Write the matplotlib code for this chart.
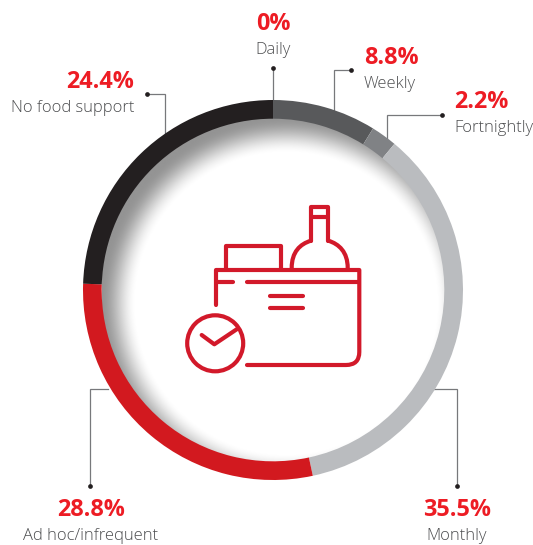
import numpy as np
import matplotlib
matplotlib.use('Agg')
import matplotlib.pyplot as plt
from matplotlib.patches import Circle, PathPatch
from matplotlib.path import Path

W, H = 533, 545
CX, CY = 273, 290
R_OUT, R_IN = 190, 171.3

RED = '#d2192a'
TEXT_RED = '#ed1c24'
TEXT_GREY = '#4d4e50'
ICON_LW = 3.0

labels = ['Daily', 'Weekly', 'Fortnightly', 'Monthly', 'Ad hoc/infrequent', 'No food support']
values = [0, 8.8, 2.2, 35.5, 28.8, 24.4]
colors = ['#58595b', '#58595b', '#808285', '#babcbf', '#d2191f', '#231f20']

# x, value y, name y, ha for each label block
text_pos = [
    (273, 24.5, 50.5, 'center'),
    (364, 57.5, 83.5, 'left'),
    (454, 102.5, 128.5, 'left'),
    (457, 510.5, 535.5, 'center'),
    (91, 510.5, 535.5, 'center'),
    (134, 82.5, 107.5, 'right'),
]

# leader lines, dot end first
leaders = [
    [(273, 68), (273, 101)],
    [(351, 69.5), (333.5, 69.5), (333.5, 110)],
    [(441.5, 114.5), (386.5, 114.5), (386.5, 138)],
    [(457, 486), (457, 389), (428, 389)],
    [(90, 486), (90, 389), (108, 389)],
    [(147, 93.5), (164.5, 93.5), (164.5, 133)],
]


def inner_shadow(ax):
    # soft grey rim, heavier towards the upper left
    xs, ys = np.meshgrid(np.arange(CX - R_IN, CX + R_IN + 1, 1.0),
                         np.arange(CY - R_IN, CY + R_IN + 1, 1.0))
    d = np.hypot(xs - (CX + 13), ys - (CY + 14))
    t = np.clip((d - 150) / (186 - 150), 0, 1)
    t = t * t * (3 - 2 * t)
    grey = 1 - 0.42 * t
    img = ax.imshow(grey, cmap='gray', vmin=0, vmax=1, zorder=1,
                    extent=(CX - R_IN, CX + R_IN, CY + R_IN, CY - R_IN),
                    interpolation='bilinear')
    img.set_clip_path(Circle((CX, CY), R_IN + 1, transform=ax.transData))


def draw_icon(ax):
    kw = dict(color=RED, lw=ICON_LW, solid_capstyle='round', solid_joinstyle='round', zorder=5)
    # bottle
    ax.plot([311, 311, 328.3, 328.3], [240.7, 207, 207, 240.7], **kw)
    ax.plot([311, 328.3], [216.5, 216.5], **kw)
    left = Path([(291.7, 268), (291.7, 252), (300, 244), (311, 240.7)],
                [Path.MOVETO, Path.CURVE4, Path.CURVE4, Path.CURVE4])
    right = Path([(347.7, 268), (347.7, 252), (339, 244), (328.3, 240.7)],
                 [Path.MOVETO, Path.CURVE4, Path.CURVE4, Path.CURVE4])
    for p in (left, right):
        ax.add_patch(PathPatch(p, fill=False, ec=RED, lw=ICON_LW, capstyle='round', zorder=5))
    # box behind the bottle
    ax.plot([225.7, 225.7, 281, 281], [269, 245.7, 245.7, 269], **kw)
    # cooler outline with rounded corner
    body = Path([(216, 305), (216, 270), (359.3, 270), (359.3, 352),
                 (359.3, 365), (346, 365), (247, 365)],
                [Path.MOVETO, Path.LINETO, Path.LINETO, Path.LINETO,
                 Path.CURVE3, Path.CURVE3, Path.LINETO])
    ax.add_patch(PathPatch(body, fill=False, ec=RED, lw=ICON_LW, capstyle='round',
                           joinstyle='round', zorder=5))
    ax.plot([216, 233.3], [281.7, 281.7], **kw)
    ax.plot([246.7, 359.3], [281.7, 281.7], **kw)
    ax.plot([270, 303.3], [296, 296], **kw)
    ax.plot([270, 303.3], [308.2, 308.2], **kw)
    # clock
    ax.add_patch(Circle((215.2, 343.3), 28, fill=False, ec=RED, lw=ICON_LW, zorder=5))
    ax.plot([201.7, 214.3, 236.7], [335, 344.3, 329.3], **kw)


fig = plt.figure(figsize=(W / 100, H / 100), dpi=100)
ax = fig.add_axes([0, 0, 1, 1])

inner_shadow(ax)

# y axis points down here, so a counter-clockwise pie from -90 runs clockwise from 12 o'clock
ax.pie(values, colors=colors, startangle=-90, counterclock=True,
       center=(CX, CY), radius=R_OUT,
       wedgeprops=dict(width=R_OUT - R_IN, linewidth=0, zorder=2))

for pts in leaders:
    xs = [p[0] for p in pts]
    ys = [p[1] for p in pts]
    ax.plot(xs, ys, color='#77787b', lw=0.9, zorder=1.5, solid_joinstyle='miter')
    ax.plot(xs[0], ys[0], 'o', color='#231f20', ms=3.4, mew=0, zorder=3)

for name, val, (x, y1, y2, ha) in zip(labels, values, text_pos):
    ax.text(x, y1, f'{val:g}%', ha=ha, va='center', color=TEXT_RED,
            fontsize=16.8, fontweight='bold', family='Open Sans')
    ax.text(x, y2, name, ha=ha, va='center', color=TEXT_GREY,
            fontsize=11.9, family='Open Sans', fontweight='light')

draw_icon(ax)

ax.set_xlim(0, W)
ax.set_ylim(H, 0)
ax.set_aspect('equal')
ax.axis('off')

fig.savefig('out.png', dpi=100, facecolor='white')
